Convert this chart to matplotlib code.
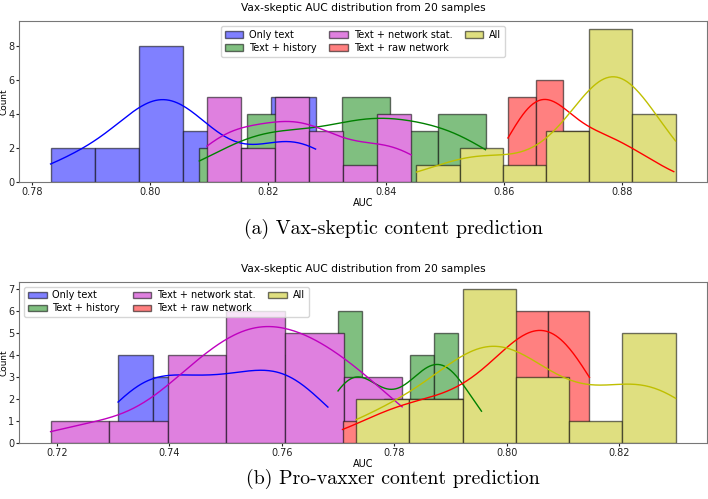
import numpy as np
import matplotlib
matplotlib.use('Agg')
import matplotlib.pyplot as plt
from matplotlib.colors import to_rgb

labels = ['Only text', 'Text + history', 'Text + network stat.', 'Text + raw network', 'All']
colors = ['b', 'g', 'm', 'r', 'y']

# panel (a): vax-skeptic; range of each series and counts per bin (6 bins)
a_lo = [0.7831, 0.8083, 0.8096, 0.8606, 0.8451]
a_hi = [0.8280, 0.8568, 0.8442, 0.8887, 0.8890]
a_counts = [[2, 2, 8, 3, 0, 5],
            [2, 4, 2, 5, 3, 4],
            [5, 2, 5, 3, 1, 4],
            [5, 6, 3, 3, 2, 1],
            [1, 2, 1, 3, 9, 4]]

# panel (b): pro-vaxxer
b_lo = [0.7309, 0.7700, 0.7189, 0.7708, 0.7732]
b_hi = [0.7682, 0.7955, 0.7814, 0.8147, 0.8300]
b_counts = [[4, 3, 3, 3, 4, 3],
            [6, 2, 1, 4, 5, 2],
            [1, 1, 4, 6, 5, 3],
            [1, 2, 2, 3, 6, 6],
            [2, 2, 7, 3, 1, 5]]

title = 'Vax-skeptic AUC distribution from 20 samples'
captions = ['(a) Vax-skeptic content prediction', '(b) Pro-vaxxer content prediction']

FS = 7


def light(c):
    # colour at alpha 0.5 over white, opaque
    r, g, b = to_rgb(c)
    return (0.5 + r / 2, 0.5 + g / 2, 0.5 + b / 2)


def kde_curve(edges, counts, grid):
    centers = (edges[:-1] + edges[1:]) / 2
    w = np.asarray(counts, float)
    n = w.sum()
    mean = (centers * w).sum() / n
    var = (w * (centers - mean) ** 2).sum() / (n - 1)
    bw = np.sqrt(var) * n ** (-0.2)
    z = (grid[None, :] - centers[:, None]) / bw
    dens = (w[:, None] * np.exp(-0.5 * z ** 2)).sum(0) / (n * bw * np.sqrt(2 * np.pi))
    return dens * n * (edges[1] - edges[0])


def draw_panel(ax, lows, highs, counts, loc):
    for lo, hi, cnt, lab, col in zip(lows, highs, counts, labels, colors):
        edges = np.linspace(lo, hi, len(cnt) + 1)
        centers = (edges[:-1] + edges[1:]) / 2
        ax.hist(centers, bins=edges, weights=cnt, facecolor=light(col),
                edgecolor=(0, 0, 0, 0.55), linewidth=1, label=lab)
        grid = np.linspace(lo, hi, 200)
        ax.plot(grid, kde_curve(edges, cnt, grid), color=col, lw=1)
    ax.set_title(title, fontsize=7.7, pad=7)
    ax.set_xlabel('AUC', fontsize=FS, labelpad=1)
    ax.set_ylabel('Count', fontsize=6.4)
    ax.yaxis.set_label_coords(-0.0163, 0.5)
    ax.tick_params(labelsize=FS, length=2.5, pad=1, colors='#222222')
    for s in ax.spines.values():
        s.set_color('#777777')
    ax.legend(ncol=3, loc=loc, fontsize=FS, handlelength=1.9, columnspacing=1.3,
              handletextpad=0.6, borderpad=0.4, labelspacing=0.3)


fig = plt.figure(figsize=(7.08, 4.99), dpi=100)
ax1 = fig.add_axes([0.0273, 0.6353, 0.971, 0.3226])
ax2 = fig.add_axes([0.0273, 0.1128, 0.971, 0.3226])

draw_panel(ax1, a_lo, a_hi, a_counts, 'upper center')
draw_panel(ax2, b_lo, b_hi, b_counts, 'upper left')

fig.text(0.555, 0.541, captions[0], family='cmr10', fontsize=14.3, ha='center', va='center')
fig.text(0.555, 0.040, captions[1], family='cmr10', fontsize=14.3, ha='center', va='center')

fig.savefig('out.png', dpi=100)
